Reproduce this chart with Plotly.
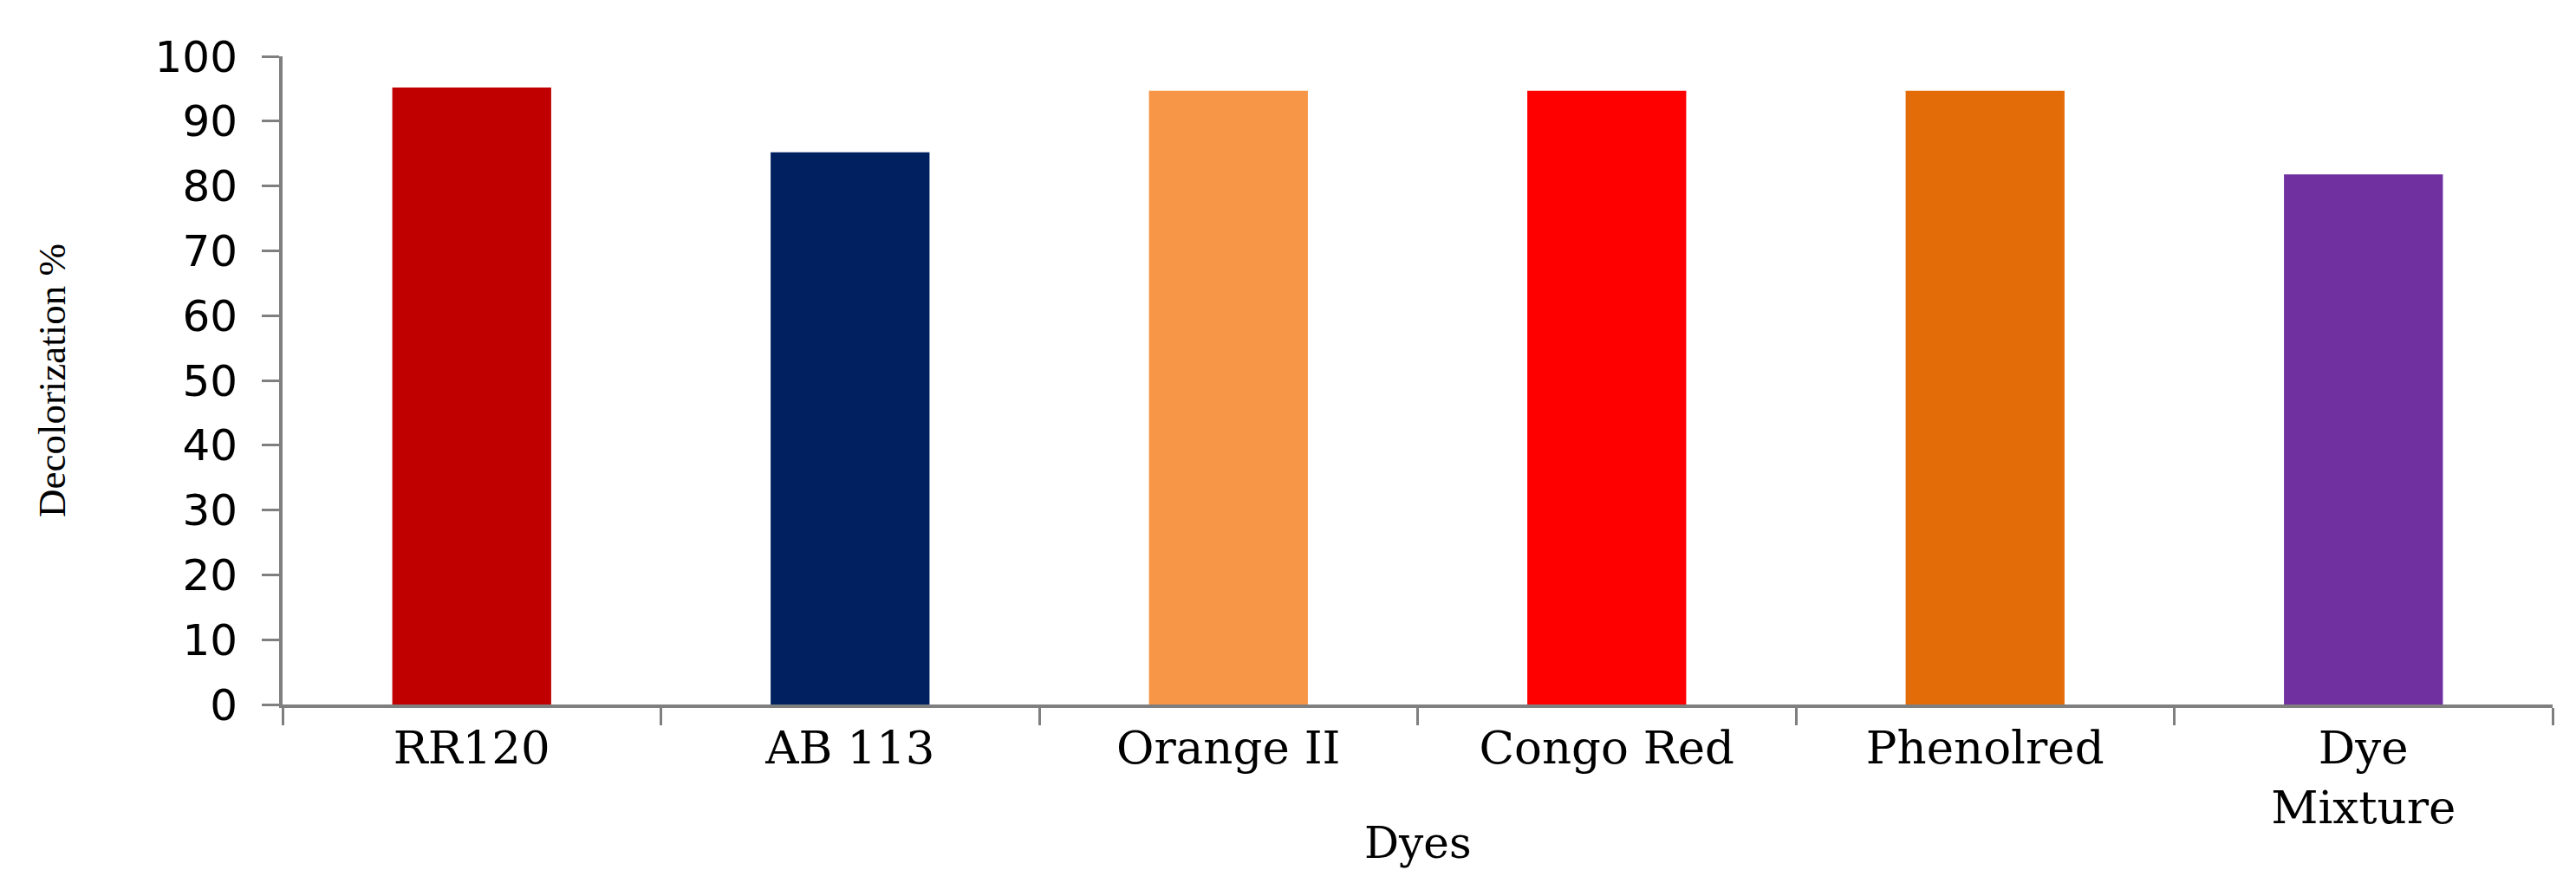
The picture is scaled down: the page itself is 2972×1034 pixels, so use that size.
import plotly.graph_objects as go

dyes = ["RR120", "AB 113", "Orange II", "Congo Red", "Phenolred", "Dye<br>Mixture"]
decolorization = [95.2, 85.2, 94.7, 94.7, 94.7, 81.8]
bar_colors = ["#C00000", "#002060", "#F79646", "#FF0000", "#E36C09", "#7030A0"]
y_ticks = [0, 10, 20, 30, 40, 50, 60, 70, 80, 90, 100]

axis_grey = "#7F7F7F"

fig = go.Figure(
    go.Bar(
        x=dyes,
        y=decolorization,
        marker=dict(color=bar_colors, line=dict(width=0)),
        width=0.42,
    )
)

fig.update_layout(
    width=2972,
    height=1034,
    margin=dict(l=318, r=35, t=57, b=229),
    paper_bgcolor="white",
    plot_bgcolor="white",
    showlegend=False,
)

fig.update_xaxes(
    showline=True,
    linecolor=axis_grey,
    linewidth=4,
    ticks="outside",
    tickson="boundaries",
    ticklen=20,
    tickwidth=3,
    tickcolor=axis_grey,
    tickfont=dict(family="DejaVu Serif", size=53, color="black"),
    automargin=False,
)

# x title placed by hand, the two-line tick label would push it too low
fig.add_annotation(
    text="Dyes", xref="paper", yref="paper", x=0.5, y=-0.214,
    xanchor="center", yanchor="middle", showarrow=False,
    font=dict(family="DejaVu Serif", size=50, color="black"),
)

fig.update_yaxes(
    range=[0, 100],
    tickvals=y_ticks,
    showline=True,
    linecolor=axis_grey,
    linewidth=4,
    ticks="outside",
    ticklen=20,
    tickwidth=3,
    tickcolor=axis_grey,
    showgrid=False,
    zeroline=False,
    ticklabelstandoff=18,
    tickfont=dict(family="DejaVu Sans", size=50, color="black"),
    title=dict(text="Decolorization %", font=dict(family="Liberation Serif", size=45, color="black"), standoff=90),
    automargin=False,
)

fig.write_html("out.html")
